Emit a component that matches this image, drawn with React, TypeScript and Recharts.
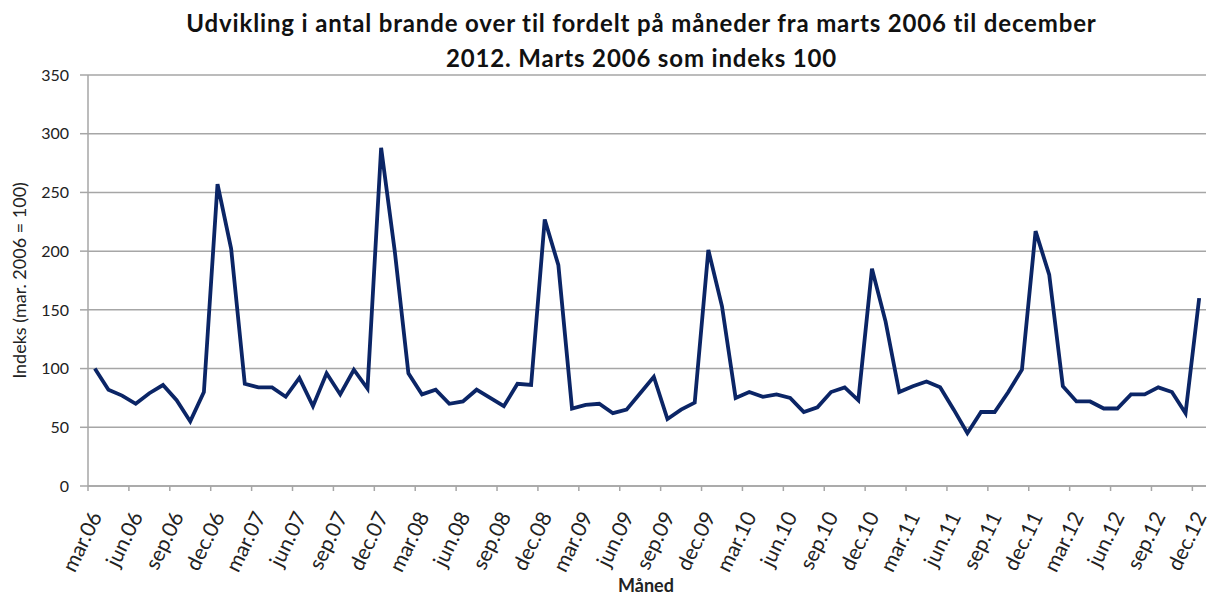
import React from "react";
import { CartesianGrid, Line, LineChart, XAxis, YAxis } from "recharts";

// one entry per month, mar.06 .. dec.12
const indexValues = [
  100, 82, 77, 70, 79, 86, 73, 55, 80, 257, 202, 87,
  84, 84, 76, 92, 68, 96, 78, 99, 83, 288, 200, 96,
  78, 82, 70, 72, 82, 75, 68, 87, 86, 227, 188, 66,
  69, 70, 62, 65, 79, 93, 57, 65, 71, 201, 153, 75,
  80, 76, 78, 75, 63, 67, 80, 84, 73, 185, 140, 80,
  85, 89, 84, 65, 45, 63, 63, 80, 99, 217, 180, 85,
  72, 72, 66, 66, 78, 78, 84, 80, 62, 160,
];

const monthNames = ["mar", "jun", "sep", "dec"];
const years = ["06", "07", "08", "09", "10", "11", "12"];
const tickLabels = years.flatMap((y) => monthNames.map((m) => `${m}.${y}`));
const yTicks = [0, 50, 100, 150, 200, 250, 300, 350];

const data = indexValues.map((v, i) => ({ x: i + 0.5, value: v }));
const xTicks = tickLabels.map((_, i) => i * 3);

const FONT = "Lato, 'Open Sans', sans-serif";
const GRID = "#a6a6a6";

function MonthTick(props: any) {
  const { x, y, payload } = props;
  const label = tickLabels[payload.value / 3];
  return (
    <g transform={`translate(${x + 8},${y + 20})`}>
      <text
        transform="rotate(-64)"
        textAnchor="end"
        dy="0.35em"
        fontSize={21}
        fontFamily={FONT}
        fill="#222"
      >
        {label}
      </text>
    </g>
  );
}

export default function App() {
  return (
    <div
      style={{
        position: "absolute",
        left: 0,
        top: 0,
        width: 1211,
        height: 594,
        background: "#fff",
        fontFamily: FONT,
      }}
    >
      <div
        style={{
          position: "absolute",
          left: 0,
          top: 5,
          width: 1283,
          textAlign: "center",
          fontWeight: 700,
          fontSize: 24,
          letterSpacing: 0.85,
          lineHeight: "35px",
          color: "#111",
        }}
      >
        Udvikling i antal brande over til fordelt på måneder fra marts 2006 til december
        <br />
        2012. Marts 2006 som indeks 100
      </div>
      <LineChart
        width={1211}
        height={594}
        data={data}
        margin={{ top: 75, right: 5, bottom: 18, left: 0 }}
      >
        <CartesianGrid vertical={false} stroke={GRID} strokeWidth={1.5} />
        <XAxis
          dataKey="x"
          type="number"
          domain={[0, 82]}
          ticks={xTicks}
          interval={0}
          height={90}
          tick={<MonthTick />}
          tickSize={5}
          stroke={GRID}
          strokeWidth={1.5}
          allowDataOverflow
        />
        <YAxis
          domain={[0, 350]}
          ticks={yTicks}
          width={88}
          tickSize={8}
          tickMargin={11}
          stroke={GRID}
          strokeWidth={1.5}
          tick={{ fontSize: 16, fill: "#222", fontFamily: FONT }}
          label={{
            value: "Indeks (mar. 2006 = 100)",
            angle: -90,
            position: "insideLeft",
            offset: 20,
            style: { fontSize: 18, fill: "#222", fontFamily: FONT, textAnchor: "middle" },
          }}
        />
        <Line
          type="linear"
          dataKey="value"
          stroke="#0b2566"
          strokeWidth={3.8}
          dot={false}
          isAnimationActive={false}
        />
      </LineChart>
      <div
        style={{
          position: "absolute",
          left: 618,
          top: 574,
          fontWeight: 700,
          fontSize: 18,
          color: "#222",
        }}
      >
        Måned
      </div>
    </div>
  );
}
